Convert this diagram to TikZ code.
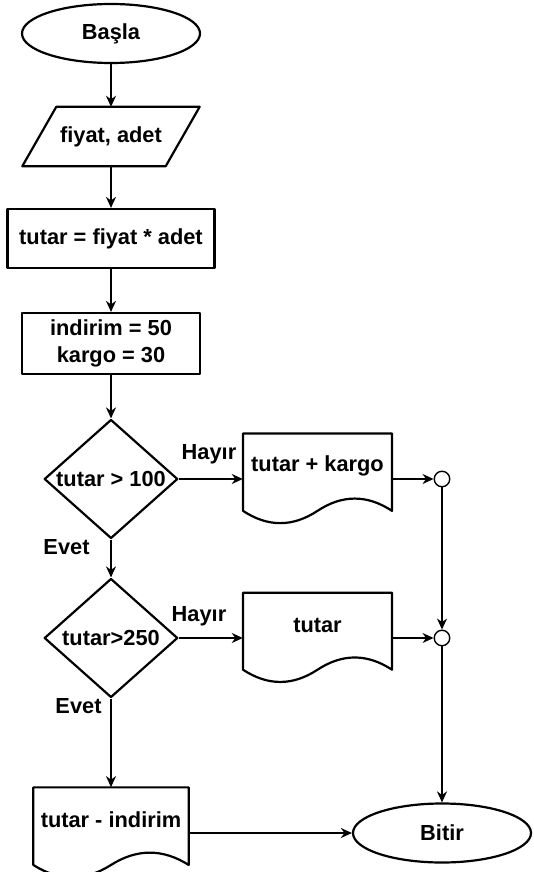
\documentclass[tikz,border=0pt]{standalone}
\usepackage{fontspec}
\setmainfont{Liberation Sans}
\usetikzlibrary{shapes.geometric,arrows.meta,calc}

% Document symbol: rectangle with a wavy lower edge (centre x, centre y, width, height; y grows downward)
\newcommand\docnode[6]{%
  \node[docbox, minimum width=#4, minimum height=#5] (#1) at (#2,#3) {};
  \draw[shapeline] ({#2-#4/2},{#3-#5/2}) -- ({#2+#4/2},{#3-#5/2}) -- ({#2+#4/2},{#3+0.35*#5})
    .. controls ({#2+0.3333*#4},{#3+0.17*#5}) and ({#2+0.1667*#4},{#3+0.17*#5}) .. ({#2},{#3+0.35*#5})
    .. controls ({#2-0.1667*#4},{#3+0.53*#5}) and ({#2-0.3333*#4},{#3+0.53*#5}) .. ({#2-#4/2},{#3+0.35*#5})
    -- cycle;
  \node[txt] (#1-t) at (#2,{#3-13}) {#6};}

\begin{document}
\begin{tikzpicture}[x=1pt,y=-1pt,
  txt/.style={font=\bfseries\fontsize{21.8}{27}\selectfont, align=center, inner sep=0pt},
  shapeline/.style={line width=2.2pt, line join=round},
  terminal/.style={ellipse, draw, shapeline, inner sep=0pt, minimum width=178, minimum height=59, txt},
  procbox/.style={rectangle, draw, shapeline, inner sep=0pt, txt},
  decision/.style={diamond, draw, shapeline, inner sep=0pt, minimum width=133.5, minimum height=119},
  docbox/.style={rectangle, draw=none, inner sep=0pt},
  mergept/.style={circle, draw, line width=1.4pt, fill=white, inner sep=0pt, minimum size=15.5},
  flow/.style={line width=1.5pt, -{Stealth[length=11pt, width=10pt, inset=3.5pt]}}
]
\useasboundingbox (0,0) rectangle (533,872);

% main column
\node[terminal] (start) at (111,33.5) {Başla};

\node[docbox, minimum width=177, minimum height=59] (input) at (111,136.5) {};
\draw[shapeline] ($(input.north west)+(34,0)$) -- (input.north east)
  -- ($(input.south east)+(-34,0)$) -- (input.south west) -- cycle;
\node[txt] (input-t) at (input.center) {fiyat, adet};

\node[procbox, minimum width=207, minimum height=59] (total) at (111,238.5) {tutar = fiyat * adet};
\node[procbox, minimum width=178, minimum height=61] (consts) at (111,343.5) {indirim = 50\\kargo = 30};

\node[decision] (d1) at (111,479) {};
\node[txt] (d1-t) at (d1.center) {tutar > 100};
\node[decision] (d2) at (111,638) {};
\node[txt] (d2-t) at (d2.center) {tutar>250};

% outputs
\docnode{out1}{317.5}{479}{149}{91}{tutar + kargo}
\docnode{out2}{317.5}{638}{149}{90.6}{tutar}
\docnode{out3}{111}{833}{155.4}{91.3}{tutar - indirim}

% merge points and end
\node[mergept] (j1) at (442,479) {};
\node[mergept] (j2) at (442,638) {};
\node[terminal] (stop) at (442,833) {Bitir};

% branch labels
\node[txt] (no1) at (209,454) {Hayır};
\node[txt] (no2) at (199,616) {Hayır};
\node[txt] (yes1) at (66.5,547) {Evet};
\node[txt] (yes2) at (78.5,706.5) {Evet};

% connectors
\draw[flow] (start) -- (input);
\draw[flow] (input) -- (total);
\draw[flow] (total) -- (consts);
\draw[flow] (consts) -- (d1);
\draw[flow] (d1.east) -- (out1.west);
\draw[flow] (out1.east) -- (j1.west);
\draw[flow] (d1.south) -- (d2.north);
\draw[flow] (d2.east) -- (out2.west);
\draw[flow] (out2.east) -- (j2.west);
\draw[flow] (j1.south) -- (j2.north);
\draw[flow] (j2.south) -- (stop.north);
\draw[flow] (d2.south) -- (out3.north);
\draw[flow] (out3.east) -- (stop.west);
\end{tikzpicture}
\end{document}
